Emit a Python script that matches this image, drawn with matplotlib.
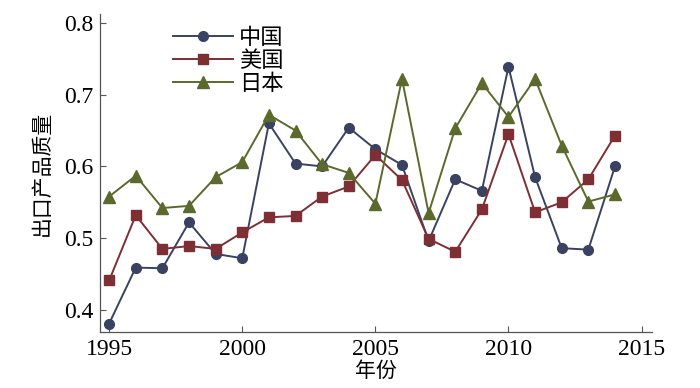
import matplotlib.pyplot as plt
import numpy as np

# 年份与三个国家的出口产品质量
years = np.arange(1995, 2015)
china = [0.381, 0.459, 0.458, 0.522, 0.478, 0.472, 0.660, 0.604, 0.600, 0.654,
         0.624, 0.602, 0.496, 0.582, 0.566, 0.739, 0.585, 0.486, 0.484, 0.600]
usa = [0.441, 0.532, 0.485, 0.489, 0.485, 0.508, 0.529, 0.531, 0.558, 0.572,
       0.616, 0.581, 0.499, 0.481, 0.540, 0.645, 0.536, 0.550, 0.582, 0.643]
japan = [0.558, 0.587, 0.542, 0.545, 0.585, 0.606, 0.672, 0.650, 0.603, 0.591,
         0.548, 0.722, 0.535, 0.653, 0.716, 0.669, 0.722, 0.629, 0.551, 0.561]
labels = ['中国', '美国', '日本']

plt.rcParams['font.family'] = ['Liberation Serif', 'Noto Sans CJK SC']
cjk = ['Noto Sans CJK SC', 'DejaVu Sans']

fig = plt.figure(figsize=(7, 3.88), dpi=100)
ax = fig.add_axes([0.143, 0.144, 0.788, 0.82])

ax.plot(years, china, color='#3a4262', marker='o', ms=7, lw=1.4, label=labels[0])
ax.plot(years, usa, color='#7d2f33', marker='s', ms=7, lw=1.4, label=labels[1])
ax.plot(years, japan, color='#5b692c', marker='^', ms=8, lw=1.4, label=labels[2])

ax.set_xlim(1994.66, 2015.38)
ax.set_ylim(0.369, 0.8125)
ax.set_xticks([1995, 2000, 2005, 2010, 2015])
ax.set_yticks([0.4, 0.5, 0.6, 0.7, 0.8])
ax.set_yticklabels(['0.4', '0.5', '0.6', '0.7', '0.8'])

for s in ['top', 'right']:
    ax.spines[s].set_visible(False)
for s in ['left', 'bottom']:
    ax.spines[s].set_color('#555555')
    ax.spines[s].set_linewidth(0.9)

ax.tick_params(direction='in', length=4, width=0.8, color='#555555',
               labelsize=17, pad=5)

ax.set_xlabel('年份', family=cjk, fontsize=15, labelpad=0)
ax.set_ylabel('出口产品质量', family=cjk, fontsize=15, labelpad=8)

leg = ax.legend(loc='upper left', bbox_to_anchor=(0.095, 1.025), frameon=False,
                prop={'family': cjk, 'size': 16}, handlelength=2.7,
                labelspacing=0.0, handletextpad=0.3)

fig.savefig('out.png', dpi=100)
